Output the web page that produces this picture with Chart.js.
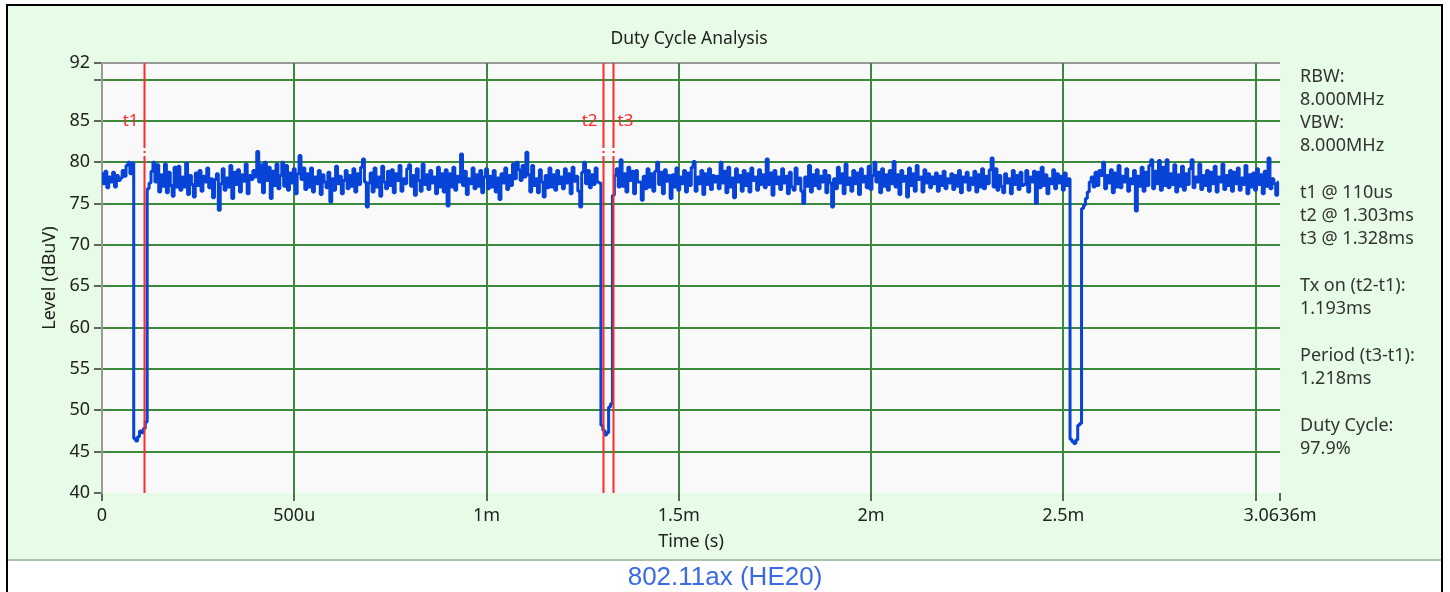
<!DOCTYPE html>
<html>
<head>
<meta charset="utf-8">
<title>Duty Cycle Analysis</title>
<script src="https://cdn.jsdelivr.net/npm/chart.js@4/dist/chart.umd.min.js"></script>
<style>
  html, body { margin: 0; padding: 0; background: #fff; }
  #duty_chart { display: block; }
</style>
</head>
<body>
<canvas id="duty_chart" width="1450" height="592"></canvas>
<script>
// trace level in dBuV, one sample every 5 us starting at 0 s (one row = 0.1 ms)
const levels = [
    78.6, 77.4, 78.9, 76.9, 78.2, 77.6, 78.8, 77.0, 78.4, 77.8, 78.1, 79.0, 78.3, 79.6, 80.0, 78.6, 79.9, 46.6, 46.3, 46.8,
    47.5, 47.3, 47.8, 48.6, 76.8, 77.5, 78.9, 80.0, 77.6, 79.7, 76.4, 78.5, 77.1, 79.8, 76.3, 78.8, 77.2, 75.9, 79.4, 77.0,
    79.5, 76.6, 78.2, 77.0, 79.9, 76.1, 78.4, 77.3, 75.8, 78.7, 77.2, 79.0, 76.5, 78.3, 77.6, 79.3, 76.9, 78.0, 75.7, 77.9,
    78.6, 74.2, 77.4, 79.2, 76.6, 78.1, 77.0, 79.6, 75.6, 78.8, 77.3, 79.1, 76.4, 78.5, 77.7, 79.8, 76.2, 78.4, 77.9, 79.0,
    78.2, 81.3, 77.6, 79.7, 76.3, 80.0, 77.8, 79.4, 75.6, 78.9, 77.2, 79.8, 76.8, 78.4, 80.0, 77.1, 79.6, 76.6, 78.7, 77.5,
    79.2, 76.2, 78.6, 80.8, 77.9, 79.3, 76.7, 78.6, 77.0, 79.3, 76.4, 78.2, 77.4, 79.0, 76.1, 78.5, 77.6, 76.9, 78.8, 75.2,
    78.0, 76.6, 79.5, 77.4, 78.3, 76.2, 77.8, 79.0, 76.8, 78.4, 77.1, 79.2, 76.4, 78.6, 77.3, 79.4, 80.4, 77.6, 74.6, 77.5,
    78.7, 76.4, 79.3, 77.0, 78.2, 75.9, 79.5, 77.6, 76.8, 78.9, 77.2, 79.1, 76.3, 78.6, 77.8, 79.6, 76.5, 78.0, 77.4, 79.2,
    79.7, 77.1, 78.4, 76.0, 79.2, 77.8, 76.5, 79.8, 77.3, 78.5, 76.7, 79.0, 77.5, 78.2, 76.2, 79.4, 77.0, 78.6, 76.4, 79.1,
    74.7, 78.6, 77.0, 79.4, 76.6, 78.3, 77.6, 81.0, 77.2, 78.9, 76.1, 78.0, 77.4, 79.3, 76.8, 78.5, 77.1, 79.0, 76.3, 78.2,
    79.2, 76.8, 78.3, 77.0, 79.0, 76.4, 78.1, 75.5, 78.6, 77.5, 79.3, 76.7, 78.4, 77.2, 79.8, 78.0, 80.0, 79.1, 77.8, 79.6,
    78.2, 81.2, 78.5, 76.4, 79.6, 77.2, 78.0, 76.3, 79.1, 77.6, 75.8, 78.4, 76.9, 79.3, 77.0, 78.5, 76.6, 79.0, 77.4, 78.2,
    76.8, 79.2, 77.5, 78.6, 76.2, 79.4, 77.7, 78.3, 76.5, 74.6, 78.8, 80.0, 77.4, 79.0, 76.9, 78.5, 77.3, 79.3, 77.6, 77.5,
    48.2, 47.6, 47.0, 47.3, 50.4, 50.8, 76.0, 78.4, 79.2, 77.0, 80.3, 77.1, 78.6, 76.4, 79.4, 77.8, 78.9, 76.2, 79.0, 77.6,
    77.6, 75.4, 78.3, 76.8, 79.2, 77.0, 78.6, 76.5, 78.9, 80.0, 77.3, 78.8, 76.2, 79.1, 77.7, 78.4, 75.6, 78.5, 77.0, 79.3,
    76.6, 78.2, 77.4, 79.0, 76.4, 78.7, 77.2, 79.4, 80.1, 76.5, 78.2, 77.4, 79.0, 76.1, 78.6, 77.3, 79.2, 76.7, 78.4, 77.6,
    78.3, 76.8, 80.0, 77.5, 78.9, 76.3, 79.4, 77.0, 78.1, 75.7, 79.2, 77.6, 78.4, 76.5, 79.0, 77.2, 78.6, 76.4, 79.3, 77.8,
    78.2, 76.6, 79.1, 77.3, 78.5, 76.9, 80.4, 77.3, 78.7, 76.0, 79.0, 77.4, 78.2, 76.7, 79.2, 77.5, 78.3, 76.2, 78.8, 77.0,
    76.6, 79.3, 77.4, 78.1, 76.5, 75.0, 78.2, 77.1, 79.6, 76.4, 78.5, 77.2, 79.1, 76.8, 78.3, 77.6, 79.0, 76.3, 78.4, 77.5,
    74.6, 78.0, 76.8, 79.4, 77.5, 78.6, 76.2, 79.8, 77.3, 78.1, 76.5, 79.0, 77.4, 78.7, 76.1, 79.2, 77.6, 78.3, 76.9, 79.5,
    76.7, 78.4, 80.0, 77.6, 78.8, 76.3, 79.2, 77.1, 78.5, 76.6, 79.0, 77.4, 80.1, 77.0, 78.5, 76.1, 79.0, 77.7, 78.3, 75.8,
    79.3, 77.2, 78.6, 76.5, 79.6, 77.9, 78.2, 76.4, 79.1, 77.5, 78.6, 76.9, 78.2, 77.4, 78.7, 76.5, 78.3, 77.2, 78.9, 76.8,
    78.0, 77.5, 78.6, 76.7, 78.4, 77.1, 79.0, 76.3, 78.2, 77.6, 78.8, 76.6, 78.1, 77.3, 78.9, 76.4, 78.5, 77.0, 79.2, 76.8,
    78.3, 77.4, 79.1, 80.5, 77.0, 79.2, 76.6, 78.4, 77.1, 76.3, 78.6, 77.5, 78.0, 76.2, 79.0, 77.3, 78.4, 76.7, 78.8, 77.2,
    77.3, 79.0, 76.4, 78.2, 77.6, 78.9, 75.0, 78.8, 76.9, 79.4, 77.2, 78.5, 76.2, 78.0, 77.4, 79.1, 76.8, 78.6, 77.5, 78.3,
    76.6, 78.7, 77.2, 78.0, 46.5, 46.2, 46.0, 46.4, 48.2, 48.4, 74.4, 74.8, 75.6, 76.4, 77.6, 78.2, 77.0, 78.8, 77.2, 79.0,
    78.4, 80.0, 76.8, 78.4, 77.5, 79.1, 76.3, 78.7, 77.0, 79.6, 76.9, 78.3, 77.6, 79.2, 76.5, 78.0, 77.4, 79.0, 74.1, 78.3,
    77.1, 79.4, 76.5, 78.8, 77.2, 79.6, 80.3, 76.8, 78.9, 77.4, 80.2, 76.6, 79.4, 77.2, 80.3, 76.9, 78.6, 77.3, 79.7, 76.4,
    78.5, 77.1, 79.5, 76.6, 78.6, 77.3, 79.2, 80.3, 76.9, 78.2, 77.6, 79.8, 76.7, 78.4, 77.2, 79.0, 76.5, 78.8, 77.4, 79.5,
    76.4, 78.2, 77.6, 79.8, 76.7, 78.4, 77.2, 79.0, 76.5, 78.8, 77.4, 79.3, 76.6, 78.1, 77.3, 79.6, 76.2, 78.5, 77.0, 78.7,
    76.6, 79.2, 77.3, 78.5, 76.2, 78.9, 77.1, 80.5, 76.8, 78.0, 77.4, 76.0, 77.6
];
const sample_step = 5e-6;
const times = levels.map((v, i) => i * sample_step);

const xTicks = [0, 0.0005, 0.001, 0.0015, 0.002, 0.0025, 0.003, 0.0030636];
const xTickLabels = ['0', '500u', '1m', '1.5m', '2m', '2.5m', '', '3.0636m'];
const yTicks = [40, 45, 50, 55, 60, 65, 70, 75, 80, 85, 90, 92];
const yTickLabels = ['40', '45', '50', '55', '60', '65', '70', '75', '80', '85', '', '92'];

const markerNames = ['t1', 't2', 't3'];
const markerTimes = [0.000110, 0.001303, 0.001328];

const infoLines = [
    'RBW:', '8.000MHz', 'VBW:', '8.000MHz', '',
    't1 @ 110us', 't2 @ 1.303ms', 't3 @ 1.328ms', '',
    'Tx on (t2-t1):', '1.193ms', '',
    'Period (t3-t1):', '1.218ms', '',
    'Duty Cycle:', '97.9%'
];

const FONT = '"Noto Sans", "Open Sans", sans-serif';
const gridGreen = '#3b8a3b';
const none = 'rgba(0,0,0,0)';

const framePlugin = {
    id: 'frame',
    beforeDraw(chart) {
        const ctx = chart.ctx;
        const a = chart.chartArea;
        ctx.save();
        ctx.fillStyle = '#fff';
        ctx.fillRect(0, 0, chart.width, chart.height);
        ctx.fillStyle = '#e6fce6';
        ctx.fillRect(8, 6, 1433, 554);
        ctx.fillStyle = '#a9c4a9';
        ctx.fillRect(8, 559, 1433, 2);
        ctx.fillStyle = '#000';
        ctx.fillRect(6, 4, 1437, 2);
        ctx.fillRect(6, 4, 2, 588);
        ctx.fillRect(1441, 4, 2, 588);
        ctx.fillStyle = '#f9f9f9';
        ctx.fillRect(a.left, a.top, a.right - a.left, a.bottom - a.top);
        ctx.fillStyle = '#9a9a9a';
        ctx.fillRect(a.left, a.top - 1, a.right - a.left, 2);
        ctx.restore();
    },
    afterDatasetsDraw(chart) {
        const ctx = chart.ctx;
        const a = chart.chartArea;
        const xs = chart.scales.x;
        const yLabel = chart.scales.y.getPixelForValue(85);
        ctx.save();
        ctx.strokeStyle = '#ff2a2a';
        ctx.fillStyle = '#ff2a2a';
        ctx.lineWidth = 2;
        ctx.font = '17px ' + FONT;
        ctx.textBaseline = 'middle';
        markerTimes.forEach((t, i) => {
            const x = Math.round(xs.getPixelForValue(t)) + 0.5;
            ctx.beginPath();
            ctx.moveTo(x, a.top);
            ctx.lineTo(x, 148);
            ctx.moveTo(x, 151);
            ctx.lineTo(x, 153);
            ctx.moveTo(x, 156);
            ctx.lineTo(x, a.bottom);
            ctx.stroke();
            if (i === 2) {
                ctx.textAlign = 'left';
                ctx.fillText(markerNames[i], x + 4, yLabel);
            } else {
                ctx.textAlign = 'right';
                ctx.fillText(markerNames[i], x - 6, yLabel);
            }
        });
        ctx.restore();
    },
    afterDraw(chart) {
        const ctx = chart.ctx;
        const a = chart.chartArea;
        ctx.save();
        ctx.fillStyle = '#222';
        ctx.textBaseline = 'middle';
        ctx.textAlign = 'center';
        ctx.font = '17.5px ' + FONT;
        ctx.fillText('Duty Cycle Analysis', (a.left + a.right) / 2 - 2, 39);
        ctx.font = '18px ' + FONT;
        ctx.fillText('Time (s)', (a.left + a.right) / 2, 542);
        ctx.save();
        ctx.translate(50, (a.top + a.bottom) / 2);
        ctx.rotate(-Math.PI / 2);
        ctx.fillText('Level (dBuV)', 0, 0);
        ctx.restore();

        ctx.textAlign = 'left';
        ctx.fillStyle = '#333';
        ctx.font = '18px ' + FONT;
        let y = 77;
        infoLines.forEach(line => {
            if (line === '') {
                y += 24;
                return;
            }
            ctx.fillText(line, 1300, y);
            y += 23;
        });

        ctx.textAlign = 'center';
        ctx.fillStyle = '#3a6be4';
        ctx.font = '26px "Liberation Sans", Arial, sans-serif';
        ctx.fillText('802.11ax (HE20)', 725, 578);
        ctx.restore();
    }
};

const chartCtx = document.getElementById('duty_chart').getContext('2d');

const dutyChart = new Chart(chartCtx, {
    type: 'line',
    data: {
        labels: times,
        datasets: [{
            label: 'Level',
            data: times.map((t, i) => ({ x: t, y: levels[i] })),
            borderColor: '#0843d8',
            borderWidth: 3,
            borderJoinStyle: 'bevel',
            pointRadius: 0,
            tension: 0,
            stepped: 'middle',
            fill: false
        }]
    },
    options: {
        responsive: false,
        animation: false,
        devicePixelRatio: 1,
        layout: { padding: { left: 40, right: 170, top: 63, bottom: 40 } },
        plugins: {
            legend: { display: false },
            tooltip: { enabled: false },
            title: { display: false }
        },
        scales: {
            x: {
                type: 'linear',
                min: 0,
                max: 0.0030636,
                afterBuildTicks: (scale) => { scale.ticks = xTicks.map(v => ({ value: v })); },
                afterFit: (scale) => { scale.height = 59; },
                ticks: {
                    autoSkip: false,
                    maxRotation: 0,
                    padding: 4,
                    color: '#222',
                    font: { family: FONT, size: 18 },
                    callback: (value, index) => xTickLabels[index]
                },
                grid: {
                    color: (c) => (c.index === 0 || c.index === xTicks.length - 1) ? none : gridGreen,
                    lineWidth: 2,
                    tickColor: '#333',
                    tickLength: 8,
                    tickWidth: 1.5
                },
                border: { display: false }
            },
            y: {
                type: 'linear',
                min: 40,
                max: 92,
                afterBuildTicks: (scale) => { scale.ticks = yTicks.map(v => ({ value: v })); },
                afterFit: (scale) => { scale.width = 62; },
                ticks: {
                    autoSkip: false,
                    padding: 4,
                    color: '#222',
                    font: { family: FONT, size: 18 },
                    callback: (value, index) => yTickLabels[index]
                },
                grid: {
                    color: (c) => (c.tick && (c.tick.value === 40 || c.tick.value === 92)) ? none : gridGreen,
                    lineWidth: 2,
                    tickColor: '#333',
                    tickLength: 8,
                    tickWidth: 1.5
                },
                border: { display: true, color: '#9a9a9a', width: 2 }
            }
        }
    },
    plugins: [framePlugin]
});
</script>
</body>
</html>
